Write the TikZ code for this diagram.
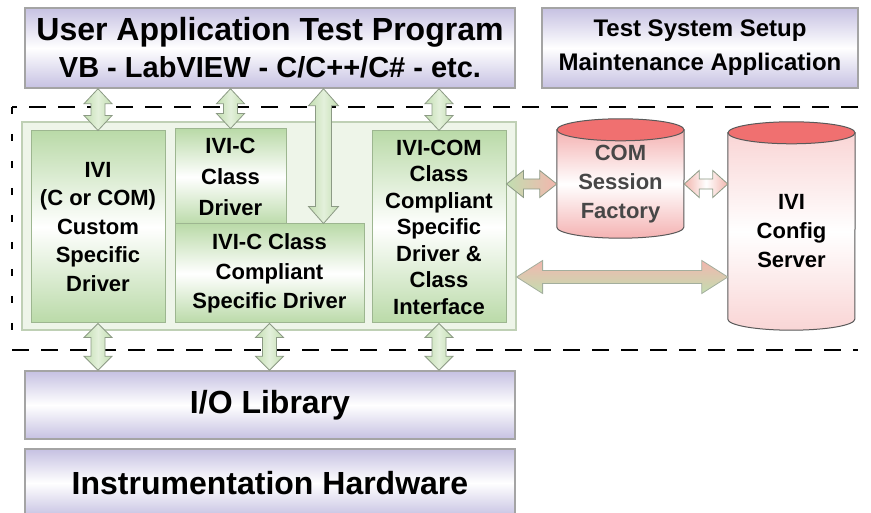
\documentclass[tikz,border=0pt]{standalone}
\usepackage{fontspec}
\setmainfont{Liberation Sans}
\usepackage{tikz}
\usetikzlibrary{calc}
\usetikzlibrary{backgrounds}
\definecolor{lavender}{HTML}{C6C1E2}
\definecolor{boxgray}{HTML}{A4A4A4}
\definecolor{drvgreen}{HTML}{BADAA8}
\definecolor{drvborder}{HTML}{9DB690}
\definecolor{panelgreen}{HTML}{EEF5E9}
\definecolor{panelborder}{HTML}{BFD0B5}
\definecolor{arrgreen}{HTML}{C2DEB0}
\definecolor{arrborder}{HTML}{8C9A85}
\definecolor{arrpink}{HTML}{F2B6AE}
\definecolor{cyltop}{HTML}{F07070}
\definecolor{cylbody}{HTML}{F4B2B2}
\definecolor{cyllight}{HTML}{F9D5D5}
\definecolor{cylborder}{HTML}{595959}
\definecolor{sessiontext}{HTML}{474747}

\tikzset{
	appbox/.style={draw=boxgray, line width=1.5pt, top color=lavender, bottom color=lavender, middle color=white, align=center, inner sep=0pt, font=\bfseries},
	drvbox/.style={draw=drvborder, line width=1pt, top color=drvgreen, bottom color=drvgreen, middle color=white, align=center, inner sep=0pt, font=\bfseries\fontsize{22}{28.5}\selectfont},
	panel/.style={draw=panelborder, line width=1.2pt, fill=panelgreen, inner sep=0pt},
	cylnode/.style={align=center, inner sep=0pt, minimum width=127pt, font=\bfseries\fontsize{22}{29}\selectfont},
	frame/.style={line width=2.2pt, dash pattern=on 17pt off 12pt},
	fatv/.style={draw=arrborder, line width=0.8pt, left color=arrgreen, right color=arrgreen, middle color=white!55!arrgreen},
	fatgp/.style={draw=arrborder, line width=0.8pt, left color=arrgreen, right color=arrpink},
	fatpp/.style={draw=arrborder, line width=0.8pt, left color=arrpink, right color=arrpink, middle color=white},
	fatlong/.style={draw=arrborder!80, line width=0.8pt, top color=arrpink, bottom color=arrgreen}
}

% vertical fat double arrow: style, top tip, bottom tip, half shaft, half head, head length
\newcommand{\vfat}[6]{%
	\draw[#1] (#2) -- ++(#5,-#6) -- ++(-#5+#4,0) -- ($(#3)+(#4,#6)$) -- ++(#5-#4,0) -- (#3) -- ++(-#5,#6) -- ++(#5-#4,0) -- ($(#2)+(-#4,-#6)$) -- ++(-#5+#4,0) -- cycle;}

% horizontal fat double arrow: style, left tip, right tip, half shaft, half head, head length
\newcommand{\hfat}[6]{%
	\draw[#1] (#2) -- ++(#6,#5) -- ++(0,-#5+#4) -- ($(#3)+(-#6,#4)$) -- ++(0,#5-#4) -- (#3) -- ++(-#6,-#5) -- ++(0,#5-#4) -- ($(#2)+(#6,-#4)$) -- ++(0,-#5+#4) -- cycle;}

% cylinder behind a node: node, x radius, y radius, body colour
\newcommand{\cylbody}[4]{%
	\begin{pgfonlayer}{background}
		\draw[cylborder, line width=1pt, top color=#4, bottom color=#4, middle color=white] (#1.north west) -- ($(#1.south west)+(0,#3)$) arc[start angle=180, end angle=360, x radius=#2, y radius=#3] -- (#1.north east) -- cycle;
		\draw[cylborder, line width=1pt, fill=cyltop] (#1.north) ellipse[x radius=#2, y radius=#3];
	\end{pgfonlayer}}

\begin{document}
\begin{tikzpicture}[x=1pt,y=1pt]
	
	\useasboundingbox (0,0) rectangle (871,513);
	
	%--- APPLICATIONS -------------------------
	
	\node[appbox, minimum width=490pt, minimum height=80pt, font=\bfseries\fontsize{32}{37}\selectfont] (user) at (270,465)
	{User Application Test Program\\{\fontsize{29}{37}\selectfont VB - LabVIEW - C/C++/C\# - etc.}};
	\node[appbox, minimum width=316pt, minimum height=80pt, font=\bfseries\fontsize{24}{34}\selectfont] (setup) at (700,465)
	{Test System Setup\\Maintenance Application};
	
	%--- DASHED FRAME -------------------------
	
	\draw[frame] (858,406) -- (12,406);
	\draw[frame] (12,163) -- (858,163);
	\draw[frame, dash pattern=on 7pt off 20pt] (12,406) -- (12,163);
	
	%--- DRIVERS ------------------------------
	
	\node[panel, minimum width=494pt, minimum height=208pt] (drv) at (269,287) {};
	
	\node[drvbox, minimum width=134pt, minimum height=192pt] (ivi) at (98,286)
	{IVI\\(C or COM)\\Custom\\Specific\\Driver};
	\node[drvbox, minimum width=111pt, minimum height=96pt, font=\bfseries\fontsize{22}{31}\selectfont] (cdrv) at (230.5,336)
	{IVI-C\\Class\\Driver};
	\node[drvbox, minimum width=189pt, minimum height=99pt, font=\bfseries\fontsize{22}{29.5}\selectfont] (ccomp) at (269.5,239.5)
	{IVI-C Class\\Compliant\\Specific Driver};
	\node[drvbox, minimum width=134pt, minimum height=192pt, font=\bfseries\fontsize{22}{26.5}\selectfont] (icom) at (439,286)
	{IVI-COM\\Class\\Compliant\\Specific\\Driver \&\\Class\\Interface};
	
	%--- CYLINDERS ----------------------------
	
	\node[cylnode, minimum height=108pt, text=sessiontext] (session) at (620.5,329) {COM\\Session\\Factory};
	\node[cylnode, minimum height=197pt] (config) at (791.5,281.5) {IVI\\Config\\Server};
	\cylbody{session}{63.5}{11}{cylbody}
	\cylbody{config}{63.5}{11}{cyllight}
	
	%--- LOWER LAYERS -------------------------
	
	\node[appbox, minimum width=490pt, minimum height=68pt, font=\bfseries\fontsize{32}{38}\selectfont] (io) at (270,108) {I/O Library};
	\node[appbox, minimum width=490pt, minimum height=68pt, font=\bfseries\fontsize{32}{38}\selectfont] (hw) at (270,30) {Instrumentation Hardware};
	
	%--- FAT ARROWS ---------------------------
	
	% Application to drivers
	\foreach \n in {ivi,cdrv,icom}{
		\coordinate (t\n) at (user.south -| \n.north);
		\vfat{fatv}{t\n}{\n.north}{7}{14}{15}
	}
	\coordinate (tcc) at ($(ccomp.north east)+(-41,0)$);
	\coordinate (ucc) at (user.south -| tcc);
	\vfat{fatv}{ucc}{tcc}{8}{15}{17}
	
	% Drivers to I/O library
	\foreach \n in {ivi,ccomp,icom}{
		\coordinate (b\n) at (\n.south |- io.north);
		\vfat{fatv}{\n.south}{b\n}{7}{14}{14}
	}
	
	% Drivers, session factory and config server
	\coordinate (hs) at (icom.east |- session.west);
	\hfat{fatgp}{hs}{session.west}{5}{13.5}{17}
	\coordinate (hc) at (config.west |- session.east);
	\hfat{fatpp}{session.east}{hc}{5}{13.5}{15}
	\coordinate (ld) at ($(drv.east)+(0,-51)$);
	\coordinate (lc) at (config.west |- ld);
	\hfat{fatlong}{ld}{lc}{6.5}{16.5}{26}
	
\end{tikzpicture}
\end{document}
